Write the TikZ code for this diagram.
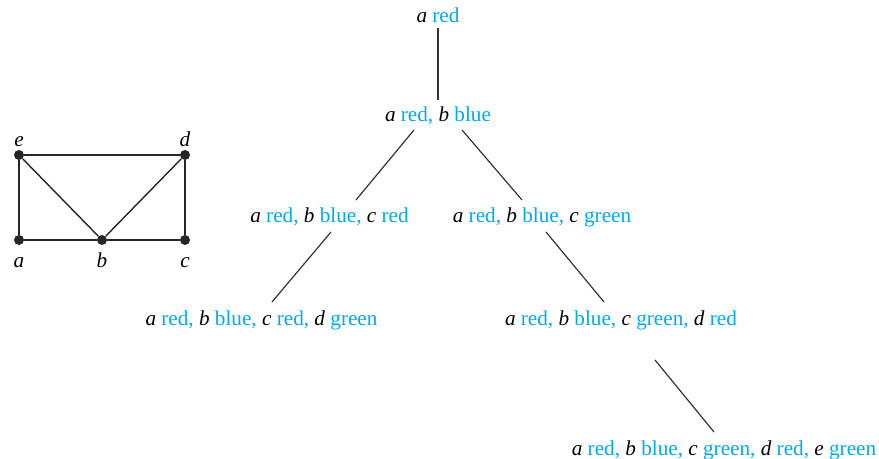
\documentclass[tikz,border=0pt]{standalone}
\usepackage{fontspec}
\setmainfont{Liberation Serif}
\usetikzlibrary{calc}
\definecolor{clrblue}{RGB}{0,170,235}
\newcommand{\vc}[2]{\textit{#1}~\textcolor{clrblue}{#2}}
\tikzset{
  state/.style={anchor=base, inner sep=0pt, font=\fontsize{10.6}{12}\selectfont},
  vtx/.style={circle, fill=black!85, inner sep=0pt, minimum size=5pt},
  vlbl/.style={anchor=base, inner sep=0pt, font=\fontsize{10.6}{12}\selectfont\itshape},
  tedge/.style={line width=0.6pt, black!80},
  gedge/.style={line width=0.7pt, black!85}
}
\begin{document}
\begin{tikzpicture}[x=0.5pt, y=-0.5pt]
\useasboundingbox (0,0) rectangle (879,459);

% Graph
\node[vtx] (ge) at (19,155) {};
\node[vtx] (gd) at (185,155) {};
\node[vtx] (ga) at (19,240) {};
\node[vtx] (gb) at (102,240) {};
\node[vtx] (gc) at (185,240) {};
\draw[gedge] (ga) -- (gb) -- (gc) -- (gd) -- (ge) -- (ga);
\draw[gedge] (ge) -- (gb) -- (gd);

\node[vlbl] (le) at (19,147) {e};
\node[vlbl] (ld) at (185,147) {d};
\node[vlbl] (la) at (19,268) {a};
\node[vlbl] (lb) at (102,268) {b};
\node[vlbl] (lc) at (185,268) {c};

% Search tree
\node[state] (r) at (438,23) {\vc{a}{red}};
\node[state] (rb) at (438,122) {\vc{a}{red,} \vc{b}{blue}};
\node[state] (rbr) at (329.5,223) {\vc{a}{red,} \vc{b}{blue,} \vc{c}{red}};
\node[state] (rbg) at (542,223) {\vc{a}{red,} \vc{b}{blue,} \vc{c}{green}};
\node[state] (rbrg) at (261.5,326) {\vc{a}{red,} \vc{b}{blue,} \vc{c}{red,} \vc{d}{green}};
\node[state] (rbgr) at (621,326) {\vc{a}{red,} \vc{b}{blue,} \vc{c}{green,} \vc{d}{red}};
\node[state] (rbgrg) at (724,456) {\vc{a}{red,} \vc{b}{blue,} \vc{c}{green,} \vc{d}{red,} \vc{e}{green}};

% Edges
\draw[tedge] ($(r.base)+(0,5)$) -- ($(rb.base)+(0,-22)$);
\draw[tedge] ($(rb.base)+(-24,8)$) -- ($(rbr.base)+(26.5,-23)$);
\draw[tedge] ($(rb.base)+(24,8)$) -- ($(rbg.base)+(-20,-23)$);
\draw[tedge] ($(rbr.base)+(1.5,9)$) -- ($(rbrg.base)+(10.5,-24)$);
\draw[tedge] ($(rbg.base)+(4,9)$) -- ($(rbgr.base)+(-17,-24)$);
\draw[tedge] ($(rbgr.base)+(34,34)$) -- ($(rbgrg.base)+(-10,-24)$);
\end{tikzpicture}
\end{document}
